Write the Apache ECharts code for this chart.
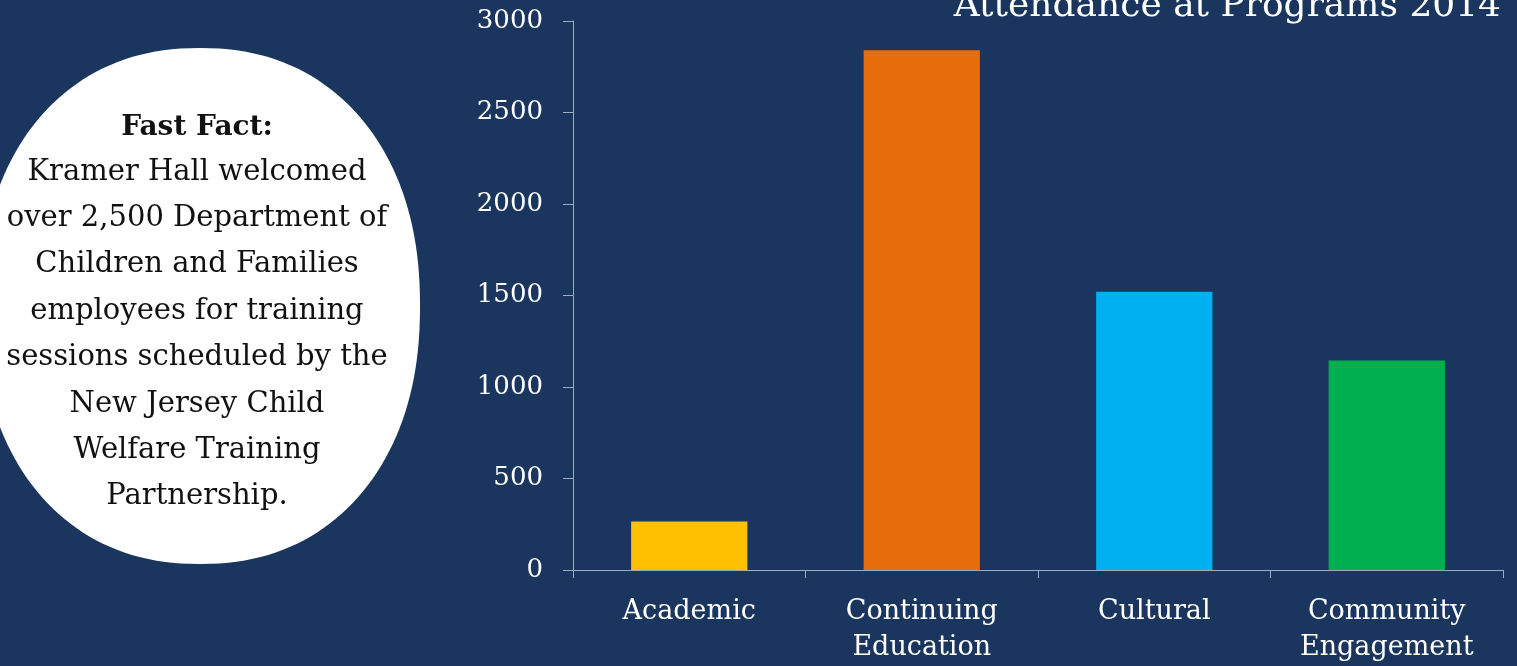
<!DOCTYPE html>
<html>
<head>
<meta charset="utf-8">
<script src="https://cdn.jsdelivr.net/npm/echarts@6/dist/echarts.min.js"></script>
<style>
  html, body { margin: 0; padding: 0; background: #1a365f; }
  #chart { width: 1517px; height: 666px; }
</style>
</head>
<body>
<div id="chart"></div>
<script>
// data
const categories = ['Academic', 'Continuing\nEducation', 'Cultural', 'Community\nEngagement']
const attendance = [265, 2840, 1520, 1145]
const barColors = ['#ffc000', '#e66c0c', '#00b0f0', '#00b050']
const yTicks = [0, 500, 1000, 1500, 2000, 2500, 3000]
const factLines = [
  'Kramer Hall welcomed',
  'over 2,500 Department of',
  'Children and Families',
  'employees for training',
  'sessions scheduled by the',
  'New Jersey Child',
  'Welfare Training',
  'Partnership.'
]

const serif = '"DejaVu Serif", "Liberation Serif", serif'
const chart = echarts.init(document.getElementById('chart'))

// white rounded blob behind the fact text (slightly squared ellipse)
const blob = []
for (let k = 0; k < 180; k++) {
  const t = (k / 180) * Math.PI * 2
  const c = Math.cos(t), s = Math.sin(t)
  const n = 2.2
  blob.push([
    200 + 220 * Math.sign(c) * Math.pow(Math.abs(c), 2 / n),
    306 + 258 * Math.sign(s) * Math.pow(Math.abs(s), 2 / n)
  ])
}

const option = {
  backgroundColor: '#1a365f',
  animation: false,
  title: {
    text: 'Attendance at Programs 2014',
    right: 11,
    top: -16,
    textStyle: { color: '#ffffff', fontFamily: serif, fontWeight: 'normal', fontSize: 36 }
  },
  grid: { left: 573, right: 14, top: 21, bottom: 94 },
  xAxis: {
    type: 'category',
    data: categories,
    axisLine: { lineStyle: { color: '#9aacc2', width: 1 } },
    axisTick: { show: true, length: 8, lineStyle: { color: '#9aacc2' } },
    axisLabel: { color: '#ffffff', fontFamily: serif, fontSize: 27, lineHeight: 36, margin: 24 }
  },
  yAxis: {
    type: 'value',
    min: yTicks[0],
    max: yTicks[yTicks.length - 1],
    interval: 500,
    axisLine: { show: true, lineStyle: { color: '#9aacc2', width: 1 } },
    axisTick: { show: true, length: 10, lineStyle: { color: '#9aacc2' } },
    splitLine: { show: false },
    axisLabel: {
      color: '#ffffff', fontFamily: serif, fontSize: 26, margin: 30,
      formatter: (v) => String(v)
    }
  },
  series: [{
    type: 'bar',
    data: attendance.map((v, i) => ({ value: v, itemStyle: { color: barColors[i] } })),
    barWidth: '50%'
  }],
  graphic: [
    {
      type: 'polygon',
      shape: { points: blob },
      style: { fill: '#ffffff' },
      z: 0
    },
    {
      type: 'text',
      x: 197, y: 128,
      style: {
        text: 'Fast Fact:',
        fill: '#111111',
        font: 'bold 28px ' + serif,
        textAlign: 'center',
        textVerticalAlign: 'middle'
      }
    },
    ...factLines.map((line, i) => ({
      type: 'text',
      x: 197, y: 172 + i * 46.4,
      style: {
        text: line,
        fill: '#111111',
        font: '29px ' + serif,
        textAlign: 'center',
        textVerticalAlign: 'middle'
      }
    }))
  ]
}

chart.setOption(option)
</script>
</body>
</html>
